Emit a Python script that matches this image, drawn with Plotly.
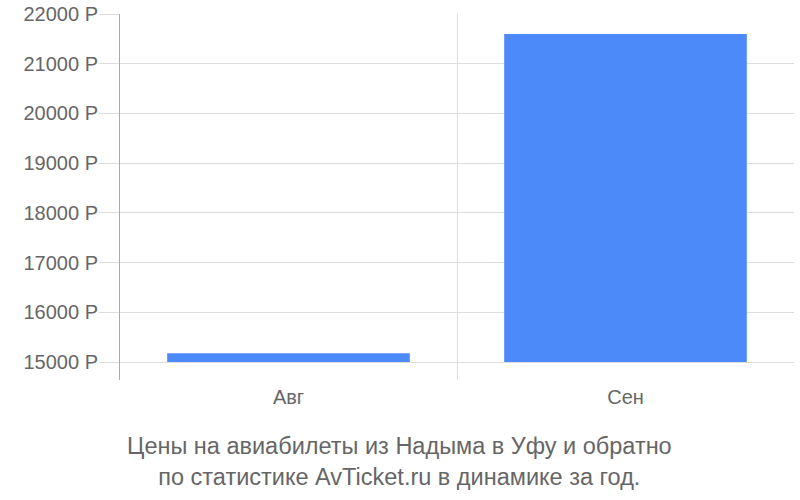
import plotly.graph_objects as go

months = ["Авг", "Сен"]
prices = [15180, 21600]
base_value = 15000
y_ticks = [15000, 16000, 17000, 18000, 19000, 20000, 21000, 22000]
title_lines = ["Цены на авиабилеты из Надыма в Уфу и обратно",
               "по статистике AvTicket.ru в динамике за год."]

xpos = [i + 0.5 for i in range(len(months))]

fig = go.Figure(go.Bar(
    x=xpos,
    y=[p - base_value for p in prices],
    base=base_value,
    width=0.72,
    marker=dict(color="#4d8af9", line=dict(width=0)),
))

fig.update_layout(
    width=800, height=500,
    margin=dict(l=120, r=6, t=14, b=120, autoexpand=False),
    paper_bgcolor="white", plot_bgcolor="white",
    font=dict(family="Liberation Sans, Arial, sans-serif", color="#666666", size=20),
    showlegend=False,
    xaxis=dict(
        range=[0, len(months)],
        tickvals=xpos, ticktext=months,
        showgrid=False, ticks="", zeroline=False, automargin=False,
        ticklabelstandoff=3,
        minor=dict(tickvals=list(range(len(months) + 1)), showgrid=True,
                   gridcolor="#dddddd", gridwidth=1, ticks=""),
        tickfont=dict(size=20, color="#666666"),
    ),
    yaxis=dict(
        range=[14640, 22000],
        tickvals=y_ticks,
        ticktext=[f"{v} Р" for v in y_ticks],
        showgrid=True, gridcolor="#dddddd", gridwidth=1,
        ticks="outside", ticklen=20, tickcolor="#dddddd",
        showline=True, linecolor="#aaaaaa", linewidth=1,
        zeroline=False, automargin=False,
        ticklabeloverflow="allow", ticklabelstandoff=-3,
        tickfont=dict(size=20, color="#666666"),
    ),
    annotations=[dict(
        text="<br>".join(title_lines),
        xref="paper", yref="paper", x=0.415, y=-0.14,
        xanchor="center", yanchor="top", showarrow=False,
        font=dict(size=23.5, color="#666666"),
    )],
)

fig.write_html("out.html", config={"displayModeBar": False},
               post_script="document.body.style.margin='0px';")
